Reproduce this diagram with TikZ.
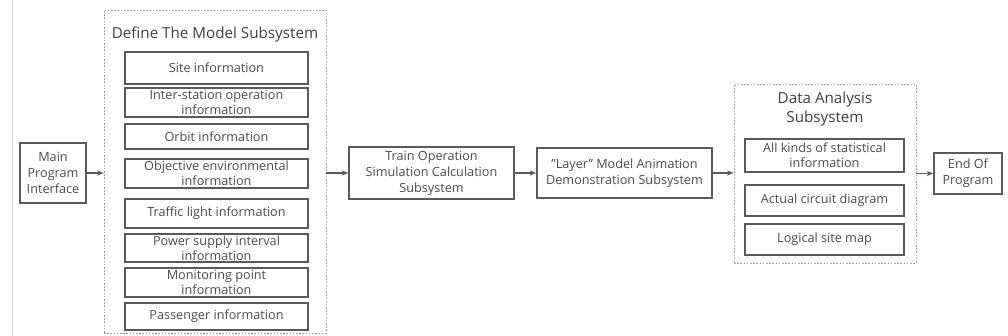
\documentclass[tikz,border=0pt]{standalone}
\usepackage{fontspec}
\setmainfont{Open Sans}
\usetikzlibrary{arrows.meta}
\definecolor{boxgray}{HTML}{5A5A5A}
\definecolor{txtgray}{HTML}{4A4A4A}
\definecolor{dashgray}{HTML}{A0A0A0}
\definecolor{edgegray}{HTML}{D8D8D8}
\def\u{0.75pt}
\tikzset{
  box/.style={draw=boxgray, line width=1.1pt, fill=white, inner sep=0pt, align=center,
    text=txtgray, font=\fontsize{9.5pt}{11.4pt}\selectfont},
  group/.style={draw=dashgray, line width=0.6pt, dash pattern=on 1.2pt off 1.2pt, inner sep=0pt},
  title/.style={text=txtgray!85!black, align=center, font=\fontsize{11.4pt}{13.6pt}\selectfont},
  conn/.style={draw=boxgray, line width=0.9pt, -{Stealth[length=5pt,width=4pt]}}
}
\begin{document}
\begin{tikzpicture}[x=0.75pt,y=-0.75pt]
\useasboundingbox (0,0) rectangle (1008,336);
\draw[edgegray, line width=0.6pt] (12,0) -- (12,336);
% groups
\node[group, minimum width=222*\u, minimum height=323*\u] (def) at (215,171.5) {};
\node[group, minimum width=182*\u, minimum height=179*\u] (data) at (825,173.5) {};
\node[title] (deft) at (215,35) {Define The Model Subsystem};
\node[title] (datat) at (825,109) {Data Analysis\\Subsystem};
% main
\node[box, minimum width=66*\u, minimum height=60*\u, font=\fontsize{9.5pt}{12pt}\selectfont] (main) at (53,173) {Main\\Program\\Interface};
% define model items
\node[box, minimum width=183*\u, minimum height=32*\u] (site) at (216.5,68) {Site information};
\node[box, minimum width=183*\u, minimum height=29*\u] (inter) at (216.5,102.5) {Inter-station operation\\information};
\node[box, minimum width=183*\u, minimum height=25*\u] (orbit) at (216.5,136.5) {Orbit information};
\node[box, minimum width=183*\u, minimum height=29*\u] (obj) at (216.5,173.5) {Objective environmental\\information};
\node[box, minimum width=183*\u, minimum height=29*\u] (traffic) at (216.5,213.5) {Traffic light information};
\node[box, minimum width=183*\u, minimum height=28*\u] (power) at (216.5,248) {Power supply interval\\information};
\node[box, minimum width=183*\u, minimum height=29*\u] (monitor) at (216.5,282.5) {Monitoring point\\information};
\node[box, minimum width=183*\u, minimum height=27*\u] (pass) at (216.5,316.5) {Passenger information};
% middle
\node[box, minimum width=165*\u, minimum height=52*\u, font=\fontsize{9.5pt}{12pt}\selectfont] (train) at (431.5,173) {Train Operation\\Simulation Calculation\\Subsystem};
\node[box, minimum width=175*\u, minimum height=50*\u, font=\fontsize{9.5pt}{12pt}\selectfont] (layer) at (624.5,173) {"Layer" Model Animation\\Demonstration Subsystem};
% data items
\node[box, minimum width=159*\u, minimum height=33*\u] (stat) at (824.5,155.5) {All kinds of statistical\\information};
\node[box, minimum width=159*\u, minimum height=31*\u] (circ) at (824.5,200.5) {Actual circuit diagram};
\node[box, minimum width=159*\u, minimum height=31*\u] (logic) at (824.5,239.5) {Logical site map};
% end
\node[box, minimum width=68*\u, minimum height=41*\u, font=\fontsize{9.5pt}{12pt}\selectfont] (end) at (968,173.5) {End Of\\Program};
% connectors
\draw[conn] (main.east) -- (def.west |- main.east);
\draw[conn] (def.east |- train.west) -- (train.west);
\draw[conn] (train.east) -- (layer.west);
\draw[conn] (layer.east) -- (data.west |- layer.east);
\draw[conn] (data.east |- end.west) -- (end.west);
\end{tikzpicture}
\end{document}
